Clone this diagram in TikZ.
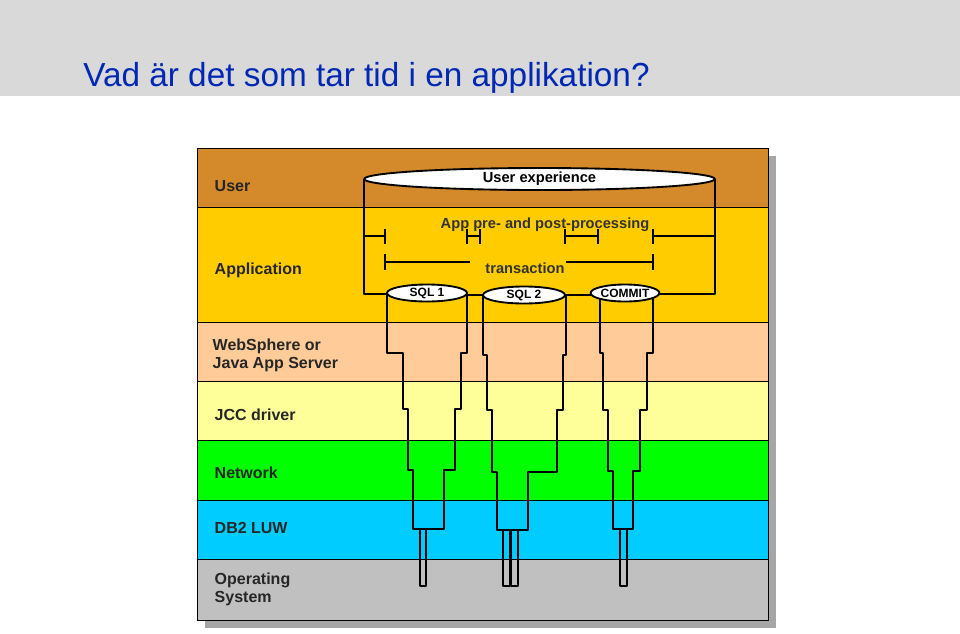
\documentclass[tikz,border=0pt]{standalone}
\usepackage{fontspec}
\setmainfont{Liberation Sans}
\usetikzlibrary{shapes.geometric}
\begin{document}
\begin{tikzpicture}[x=0.75pt,y=-0.75pt,
 lbl/.style={font=\bfseries\fontsize{12}{13.5}\selectfont,anchor=west,align=left,text=black!85},
 pipe/.style={line width=2.2pt,line join=round},
 brk/.style={line width=1.7pt},
 ell/.style={ellipse,draw,line width=1.4pt,fill=white,inner sep=0pt,font=\bfseries\fontsize{9}{10}\selectfont}]
\useasboundingbox (0,0) rectangle (960,633);
\fill[black!15] (0,0) rectangle (960,96);
\node[anchor=base west,text={rgb,255:red,0;green,40;blue,180},font=\fontsize{25}{29}\selectfont,inner sep=0pt] (title) at (83,86) {Vad är det som tar tid i en applikation?};
% shadow
\fill[black!35] (205,156) rectangle (776,628);
\tikzset{band/.style={draw=black,line width=0.6pt}}
\filldraw[band,fill={rgb,255:red,212;green,137;blue,42}] (197,148) rectangle (768,207);
\filldraw[band,fill={rgb,255:red,255;green,204;blue,0}] (197,207) rectangle (768,322);
\filldraw[band,fill={rgb,255:red,255;green,204;blue,153}] (197,322) rectangle (768,381);
\filldraw[band,fill={rgb,255:red,255;green,255;blue,153}] (197,381) rectangle (768,440);
\filldraw[band,fill={rgb,255:red,0;green,255;blue,0}] (197,440) rectangle (768,500);
\filldraw[band,fill={rgb,255:red,0;green,204;blue,255}] (197,500) rectangle (768,559);
\filldraw[band,fill={rgb,255:red,192;green,192;blue,192}] (197,559) rectangle (768,620);
\node[lbl] (lu) at (210,186) {User};
\node[lbl] (la) at (210,270) {Application};
\node[lbl] (lw) at (208,355) {WebSphere or\\Java App Server};
\node[lbl] (lj) at (210,415) {JCC driver};
\node[lbl] (ln) at (210,473) {Network};
\node[lbl] (ld) at (210,528) {DB2 LUW};
\node[lbl] (lo) at (210,589) {Operating\\System};
% outer frame
\draw[pipe] (364,179) -- (364,294) -- (388,294);
\draw[pipe] (715,179) -- (715,294) -- (650,294);
\draw[pipe] (466,295) -- (484,295);
\draw[pipe] (564,295) -- (600,295);
% pipes
\draw[pipe] (387,294) |- (403,353) |- (408,409) |- (413,470) |- (420,529) -- (426,529) -| (444,470) -| (455,409) -| (461,353) -| (467,294);
\draw[pipe] (420,529) -- (420,586) -- (426,586) -- (426,529);
\draw[pipe] (483,295) |- (487,355) |- (492,410) |- (497,472) |- (503,530) -- (503,586) -- (510,586) -- (510,530);
\draw[pipe] (511,530) -- (511,586) -- (518,586) -- (518,530) -| (528,472) -| (557,410) -| (563,355) -| (566,295);
\draw[pipe] (503,530) -- (518,530);
\draw[pipe] (600,294) |- (603,353) |- (608,410) |- (613,471) |- (620,529) -- (620,586) -- (627,586) -- (627,529) -| (633,471) -| (640,410) -| (647,353) -| (653,294);
\draw[pipe] (620,529) -- (627,529);
% ellipses
\node[ell,minimum width=263pt,minimum height=16.5pt] (ue) at (539.5,179) {\fontsize{11}{12}\selectfont User experience};
\node[ell,minimum width=60pt,minimum height=12.75pt] (s1) at (427,293) {SQL 1};
\node[ell,minimum width=61.5pt,minimum height=12.75pt] (s2) at (524,295) {SQL 2};
\node[ell,minimum width=39pt,minimum height=12.75pt] (cm) at (625,293) {COMMIT};
% brackets
\node[font=\bfseries\fontsize{11}{12}\selectfont,text=black!80] (app) at (545,225) {App pre- and post-processing};
\node[font=\bfseries\fontsize{11}{12}\selectfont,text=black!80] (tr) at (525,268) {transaction};
\draw[brk] (364,236) -- (385,236);
\draw[brk] (385,229) -- (385,244);
\draw[brk] (467,229) -- (467,244) (467,236) -- (480,236) (480,229) -- (480,244);
\draw[brk] (565,229) -- (565,244) (565,236) -- (598,236) (598,229) -- (598,244);
\draw[brk] (653,229) -- (653,244) (653,236) -- (715,236);
\draw[brk] (385,254) -- (385,270) (385,262) -- (470,262);
\draw[brk] (566,262) -- (653,262) (653,254) -- (653,270);
\end{tikzpicture}
\end{document}
